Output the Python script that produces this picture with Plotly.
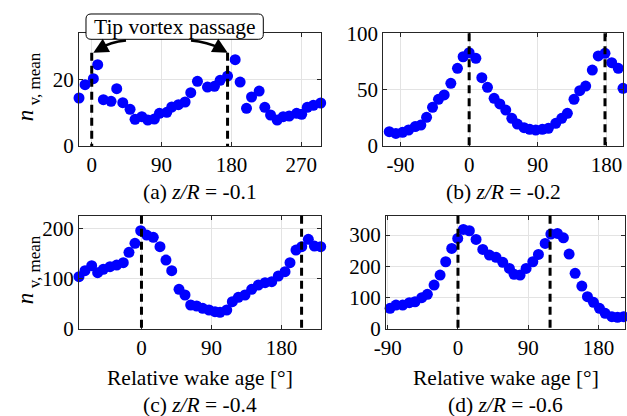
import plotly.graph_objects as go

# Relative wake age [deg] and mean vortex count for each z/R station
A_AGE = [-16.4, -8.6, 2.1, 7.7, 15.0, 24.9, 32.2, 40.0, 49.4, 55.8, 64.5, 72.2, 80.7, 87.2,
         96.7, 103.1, 111.7, 120.3, 127.6, 136.2, 149.1, 158.1, 165.4, 175.0, 184.8, 191.2,
         199.4, 205.9, 215.7, 223.0, 230.4, 238.9, 246.7, 254.4, 264.0, 270.5, 277.7, 285.5, 295.0]
A_VAL = [14.4, 18.4, 20.2, 24.4, 13.9, 13.4, 17.2, 13.0, 11.0, 8.0, 8.8, 7.8, 8.1, 9.8,
         10.1, 11.7, 12.4, 13.2, 16.0, 19.4, 17.7, 17.9, 19.7, 21.0, 25.9, 19.2,
         11.3, 14.7, 16.5, 11.6, 9.3, 7.8, 8.8, 9.0, 9.8, 9.5, 11.6, 12.2, 12.9]

B_AGE = [-112.6, -104.7, -96.0, -87.3, -79.4, -70.7, -63.3, -55.8, -48.0, -40.2, -32.7, -24.0,
         -15.3, -7.9, 0.0, 8.8, 16.6, 24.0, 32.7, 40.2, 48.0, 55.9, 63.2, 72.0, 79.4, 87.3,
         95.9, 103.8, 113.5, 121.3, 128.7, 137.4, 144.9, 152.7, 161.4, 169.2, 178.0, 186.8,
         195.4, 201.6]
B_VAL = [13.6, 12.7, 11.2, 12.1, 14.2, 17.2, 18.6, 25.4, 34.3, 41.4, 45.3, 55.6,
         68.9, 79.2, 82.8, 77.8, 60.6, 52.1, 42.3, 37.3, 31.9, 24.6, 19.5, 16.3, 14.8, 14.2,
         14.8, 15.7, 20.1, 24.6, 29.0, 41.4, 49.1, 53.2, 67.4, 79.9, 82.2, 73.9,
         68.9, 51.2]

C_AGE = [-80.4, -72.7, -64.1, -56.4, -49.2, -40.5, -31.9, -23.4, -16.1, -8.4, -1.0, 6.7,
         15.2, 23.8, 31.5, 38.9, 48.3, 56.0, 63.3, 71.0, 78.8, 86.9, 94.6, 101.0, 109.7,
         116.9, 124.6, 133.2, 141.8, 150.3, 159.0, 167.6, 176.1, 184.7, 191.1, 198.8, 206.2,
         214.7, 222.5, 230.6]
C_VAL = [104.3, 116.3, 126.3, 112.3, 119.0, 124.3, 127.6, 132.2, 152.9, 170.9, 196.0, 187.4,
         182.8, 164.1, 137.6, 116.3, 79.2, 67.8, 47.9, 45.9, 41.3, 37.9, 34.5, 33.3, 37.9,
         54.4, 63.2, 67.8, 79.2, 87.7, 92.3, 94.3, 105.7, 114.3, 132.2, 157.5, 164.1,
         178.9, 165.5, 164.1]

D_AGE = [-94.7, -87.0, -79.4, -70.8, -62.3, -55.0, -46.4, -39.2, -30.6, -22.9, -15.7, -8.0,
         -0.3, 6.9, 14.6, 23.2, 31.8, 40.3, 48.8, 57.4, 65.9, 71.9, 79.6, 87.3, 95.9, 103.1,
         111.7, 119.0, 127.4, 135.1, 142.4, 150.1, 158.7, 165.9, 173.6, 181.3, 188.6, 197.2,
         204.4, 212.1]
D_VAL = [58.5, 65.9, 76.6, 76.6, 84.0, 87.1, 99.9, 110.8, 140.4, 172.4, 214.9, 257.6,
         289.5, 318.2, 313.9, 286.3, 254.4, 236.2, 228.9, 212.9, 193.7, 174.6, 172.4, 193.7,
         214.9, 238.4, 273.5, 303.2, 305.3, 291.3, 239.4, 177.8, 137.2, 103.1, 85.2, 65.9,
         50.1, 39.3, 37.3, 39.3]

# Tip vortex passage ages marked by dashed lines
VORTEX_A = [0, 175]
VORTEX_B = [0, 178]
VORTEX_C = [0, 206]
VORTEX_D = [0, 118]

CAPTIONS = ["(a) <i>z/R</i> = -0.1", "(b) <i>z/R</i> = -0.2",
            "(c) <i>z/R</i> = -0.4", "(d) <i>z/R</i> = -0.6"]

W, H = 627, 416
FONT = "Liberation Serif, Times New Roman, serif"
FS = 21
FS_TXT = 21.5


def px(x):
    return x / W


def py(y):
    return 1 - y / H


def labels(vals):
    # plain hyphen for negative tick labels
    return [str(v) for v in vals]


panels = [
    dict(age=A_AGE, val=A_VAL, vx=VORTEX_A, xr=[-16.4, 295], yr=[0, 34],
         xt=[0, 90, 180, 270], yt=[0, 20], dom_x=(79, 320.7), dom_y=(32.7, 146), vtop=52.7),
    dict(age=B_AGE, val=B_VAL, vx=VORTEX_B, xr=[-112.5, 202], yr=[0, 100],
         xt=[-90, 0, 90, 180], yt=[0, 50, 100], dom_x=(383.3, 623.3), dom_y=(33.3, 146), vtop=None),
    dict(age=C_AGE, val=C_VAL, vx=VORTEX_C, xr=[-80.4, 230.6], yr=[0, 226],
         xt=[0, 90, 180], yt=[0, 100, 200], dom_x=(79, 320.7), dom_y=(215.7, 329), vtop=None),
    dict(age=D_AGE, val=D_VAL, vx=VORTEX_D, xr=[-92.2, 214], yr=[0, 362],
         xt=[-90, 0, 90, 180], yt=[0, 100, 200, 300], dom_x=(386, 625), dom_y=(215.7, 329), vtop=None),
]

fig = go.Figure()
shapes = []
annotations = []
layout = {}


def text_ann(text, x, y, size, angle=0):
    return dict(text=text, xref="paper", yref="paper", x=px(x), y=py(y),
                showarrow=False, xanchor="center", yanchor="middle", textangle=angle,
                font=dict(family=FONT, size=size, color="#000000"))


for i, p in enumerate(panels):
    n = "" if i == 0 else str(i + 1)
    xa, ya = "x" + n, "y" + n
    fig.add_trace(go.Scatter(
        x=p["age"], y=p["val"], mode="markers", xaxis=xa, yaxis=ya,
        marker=dict(color="#0000FF", size=11, line=dict(width=0)),
        cliponaxis=False, showlegend=False,
    ))
    axis_common = dict(
        showline=True, linecolor="#262626", linewidth=1, mirror="ticks",
        ticks="inside", ticklen=4, tickcolor="#262626", tickwidth=1,
        showgrid=True, gridcolor="#e3e3e3", gridwidth=1, zeroline=False,
        automargin=False,
        tickfont=dict(family=FONT, size=FS, color="#000000"),
    )
    layout["xaxis" + n] = dict(
        axis_common, domain=[px(p["dom_x"][0]), px(p["dom_x"][1])], range=p["xr"],
        tickvals=p["xt"], ticktext=labels(p["xt"]), anchor=ya,
    )
    layout["yaxis" + n] = dict(
        axis_common, domain=[py(p["dom_y"][1]), py(p["dom_y"][0])], range=p["yr"],
        tickvals=p["yt"], ticktext=labels(p["yt"]), anchor=xa,
    )
    # dashed lines at tip vortex passage
    ytop = 1.0
    if p["vtop"] is not None:
        ytop = (p["dom_y"][1] - p["vtop"]) / (p["dom_y"][1] - p["dom_y"][0])
    for v in p["vx"]:
        shapes.append(dict(type="line", xref=xa, yref=ya + " domain", x0=v, x1=v, y0=ytop, y1=0,
                           line=dict(color="#000000", width=3, dash="8px,5px"), layer="above"))
    xc = (p["dom_x"][0] + p["dom_x"][1]) / 2
    yc = (p["dom_y"][0] + p["dom_y"][1]) / 2
    # caption under each panel
    annotations.append(text_ann(CAPTIONS[i], xc, 191.5 if i < 2 else 404.5, FS_TXT))
    if i >= 2:
        annotations.append(text_ann("Relative wake age [°]", xc, 378, FS_TXT))
    if i in (0, 2):
        # y-axis label: italic n with a subscript
        annotations.append(text_ann("<i>n</i>", 25, yc + 26, 23, -90))
        annotations.append(text_ann("v, mean", 34, yc - 10, 17, -90))

# rounded label box
bx0, bx1, by0, by1, r = 86, 263.3, 14, 39.3, 5


def pt(x, y):
    return f"{px(x):.5f},{py(y):.5f}"


box_path = (f"M {pt(bx0 + r, by0)} L {pt(bx1 - r, by0)} Q {pt(bx1, by0)} {pt(bx1, by0 + r)} "
            f"L {pt(bx1, by1 - r)} Q {pt(bx1, by1)} {pt(bx1 - r, by1)} "
            f"L {pt(bx0 + r, by1)} Q {pt(bx0, by1)} {pt(bx0, by1 - r)} "
            f"L {pt(bx0, by0 + r)} Q {pt(bx0, by0)} {pt(bx0 + r, by0)} Z")
shapes.append(dict(type="path", xref="paper", yref="paper", path=box_path,
                   fillcolor="#ffffff", line=dict(color="#000000", width=1), layer="above"))
annotations.append(text_ann("Tip vortex passage", 174.7, 26.5, FS_TXT))

# curved arrows from the label to the dashed lines
for (sx, sy, cx, cy, ex, ey) in [(126, 40.5, 110, 42, 100, 48.5), (191, 40.5, 207, 42, 221, 48.5)]:
    shapes.append(dict(type="path", xref="paper", yref="paper",
                       path=f"M {pt(sx, sy)} Q {pt(cx, cy)} {pt(ex, ey)}",
                       line=dict(color="#000000", width=2.5), layer="above"))
for (tx, ty, ax, ay) in [(93.3, 52.7, 9, -5), (227.7, 52.7, -9, -5)]:
    annotations.append(dict(
        x=px(tx), y=py(ty), xref="paper", yref="paper", text="", showarrow=True,
        ax=ax, ay=ay, arrowhead=2, arrowsize=1.2, arrowwidth=2.5, arrowcolor="#000000",
        standoff=0,
    ))

fig.update_layout(
    **layout,
    template="none",
    width=W, height=H, autosize=False,
    margin=dict(l=0, r=0, t=0, b=0, pad=0, autoexpand=False),
    paper_bgcolor="#ffffff", plot_bgcolor="#ffffff",
    shapes=shapes, annotations=annotations,
    font=dict(family=FONT, size=FS, color="#000000"),
)

fig.write_html("out.html")
